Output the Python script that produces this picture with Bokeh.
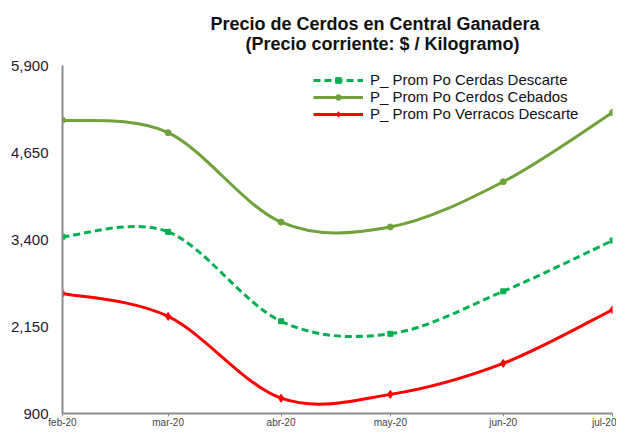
import pandas as pd
from bokeh.plotting import figure
from bokeh.models import (ColumnDataSource, FixedTicker, Legend, LegendItem, Title,
                          NumeralTickFormatter, Range1d)
from bokeh.embed import file_html
from bokeh.resources import INLINE

# ---- data ----
months = ["2020-02-01", "2020-03-01", "2020-04-01", "2020-05-01", "2020-06-01", "2020-07-01"]
month_labels = ["feb-20", "mar-20", "abr-20", "may-20", "jun-20", "jul-20"]
cerdas_descarte = [3440, 3510, 2225, 2045, 2655, 3385]
cerdos_cebados = [5115, 4935, 3650, 3580, 4230, 5225]
verracos_descarte = [2625, 2295, 1120, 1175, 1620, 2390]
y_ticks = [900, 2150, 3400, 4650, 5900]

title_lines = ["Precio de Cerdos  en Central Ganadera", "(Precio corriente: $ / Kilogramo)"]
names = ["P_ Prom Po Cerdas Descarte", "P_ Prom Po Cerdos Cebados", "P_ Prom Po Verracos Descarte"]

dates = pd.to_datetime(months)
xdays = [(d - dates[0]).days for d in dates]


def bezier_segments(xs, ys):
    """Catmull-Rom style control points (Excel-like smoothing) from data."""
    n = len(xs)
    x0, y0, x1, y1, cx0, cy0, cx1, cy1 = ([] for _ in range(8))
    for i in range(n - 1):
        ip = max(i - 1, 0)
        inn = min(i + 2, n - 1)
        x0.append(xs[i]); y0.append(ys[i])
        x1.append(xs[i + 1]); y1.append(ys[i + 1])
        cx0.append(xs[i] + (xs[i + 1] - xs[ip]) / 6.0)
        cy0.append(ys[i] + (ys[i + 1] - ys[ip]) / 6.0)
        cx1.append(xs[i + 1] - (xs[inn] - xs[i]) / 6.0)
        cy1.append(ys[i + 1] - (ys[inn] - ys[i]) / 6.0)
    return ColumnDataSource(dict(x0=x0, y0=y0, x1=x1, y1=y1, cx0=cx0, cy0=cy0, cx1=cx1, cy1=cy1))


p = figure(width=616, height=430, output_backend="svg", toolbar_location=None,
           x_range=Range1d(xdays[0], xdays[-1]), y_range=Range1d(900, 5900),
           min_border_left=62, min_border_right=4, min_border_top=65, min_border_bottom=10)
p.outline_line_color = None
p.grid.visible = False
p.background_fill_color = "white"
p.border_fill_color = "white"

FONT = "Liberation Sans"

title = Title(text=title_lines[0] + "\n" + "\u00a0" * 7 + title_lines[1], align="left", offset=148,
              text_font=FONT, text_font_size="18px", text_font_style="bold",
              text_color="#111111", standoff=23, text_line_height=1.0)
p.add_layout(title, "above")

series = [
    (cerdas_descarte, "#00B050", "7 4", "square", 5),
    (cerdos_cebados, "#6FA23A", "solid", "circle", 6),
    (verracos_descarte, "#FF0000", "solid", "diamond", 8),
]

items = []
for (vals, color, dash, marker, msize), name in zip(series, names):
    src = bezier_segments(xdays, vals)
    r1 = p.bezier(x0="x0", y0="y0", x1="x1", y1="y1", cx0="cx0", cy0="cy0", cx1="cx1", cy1="cy1",
                  source=src, line_color=color, line_width=3, line_dash=dash)
    r2 = p.scatter(xdays, vals, marker=marker, size=msize, fill_color=color, line_color=color)
    items.append(LegendItem(label=name, renderers=[r1, r2]))

legend = Legend(items=items, location=(251, 291), border_line_color=None,
                background_fill_alpha=0, label_text_font=FONT, label_text_font_size="15px",
                label_text_color="#111111", glyph_width=50, glyph_height=14, spacing=0,
                label_standoff=7, padding=2, margin=0, label_height=14)
p.add_layout(legend)

p.yaxis.ticker = FixedTicker(ticks=y_ticks)
p.yaxis.formatter = NumeralTickFormatter(format="0,0")
p.yaxis.major_tick_line_color = None
p.yaxis.minor_tick_line_color = None
p.yaxis.axis_line_color = "#8C8C8C"
p.yaxis.axis_line_width = 2
p.yaxis.major_label_text_font = FONT
p.yaxis.major_label_text_font_size = "15px"
p.yaxis.major_label_text_color = "#1a1a33"
p.yaxis.major_label_standoff = 8

p.xaxis.ticker = FixedTicker(ticks=xdays)
p.xaxis.major_label_overrides = {x: lab for x, lab in zip(xdays, month_labels)}
p.xaxis.minor_tick_line_color = None
p.xaxis.major_tick_in = 0
p.xaxis.major_tick_out = 3
p.xaxis.major_tick_line_color = "#8C8C8C"
p.xaxis.axis_line_color = "#8C8C8C"
p.xaxis.axis_line_width = 2
p.xaxis.major_label_text_font = FONT
p.xaxis.major_label_text_font_size = "10px"
p.xaxis.major_label_text_line_height = 0.8
p.xaxis.major_label_text_color = "#444444"
p.xaxis.major_label_standoff = 0

open("out.html", "w").write(file_html(p, INLINE))
